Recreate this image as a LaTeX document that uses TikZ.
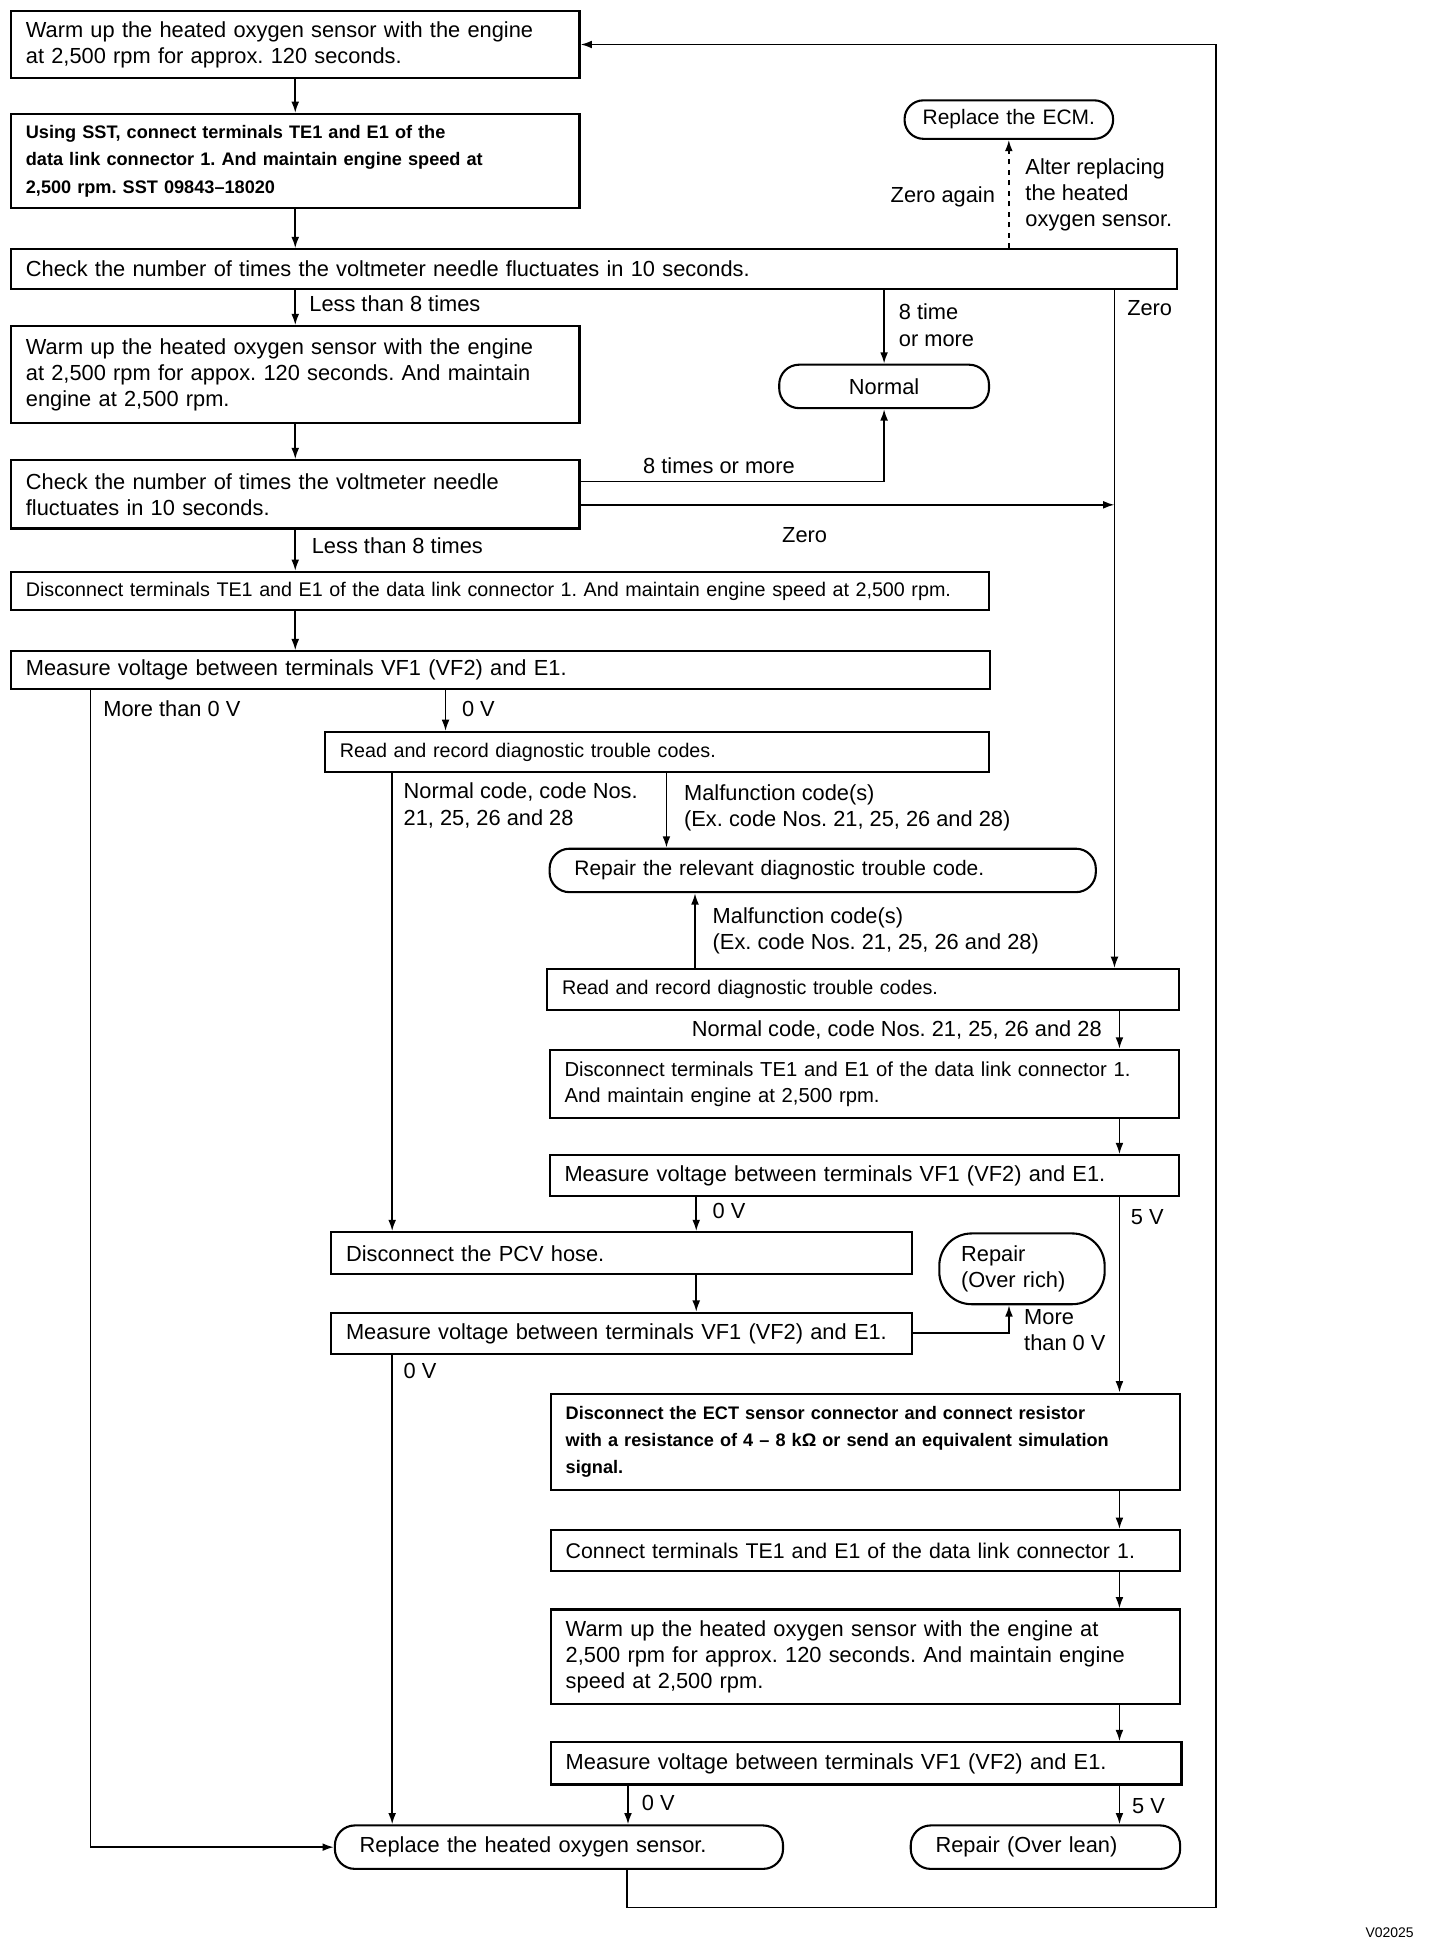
\documentclass[tikz,border=0pt]{standalone}
\usepackage{fontspec}
\setmainfont{Liberation Sans}
\usepackage{tikz}
\usetikzlibrary{shapes,arrows.meta,positioning}
\frenchspacing

\begin{document}
\begin{tikzpicture}
  [
    x=0.025cm, y=-0.025cm,
    StepBox/.style={rectangle, draw=black, line width=1.2pt, anchor=north west, inner xsep=0.3cm, inner ysep=0pt, align=left, font=\fontsize{12.5}{15}\selectfont},
    SmallBox/.style={StepBox, font=\fontsize{11.3}{14}\selectfont},
    BoldBox/.style={StepBox, font=\bfseries\fontsize{10.4}{15.6}\selectfont},
    EndBox/.style={StepBox, rounded corners=0.4cm, inner xsep=0.5cm},
    Arrow/.style={-{Latex[length=6.5pt,width=4.5pt]}, draw, line width=1pt},
    Label/.style={anchor=west, inner sep=0pt, align=left, font=\fontsize{12.5}{15}\selectfont}
  ]
  \useasboundingbox (0,0) rectangle (1160,1568);

  % Nodes
  \node[StepBox, text width=10.85cm, minimum height=1.35cm] (warmA) at (8,8)
    {Warm up the heated oxygen sensor with the engine\\at 2,500 rpm for approx. 120 seconds.};

  \node[BoldBox, text width=10.85cm, minimum height=1.9cm] (sstA) at (8,91)
    {Using SST, connect terminals TE1 and E1 of the\\data link connector 1. And maintain engine speed at\\2,500 rpm. SST 09843–18020};

  \node[StepBox, text width=22.875cm, minimum height=0.8cm] (checkA) at (8,200)
    {Check the number of times the voltmeter needle fluctuates in 10 seconds.};

  \node[EndBox, align=center, inner xsep=0.15cm, text width=3.9cm, minimum height=0.775cm, rounded corners=0.38cm, font=\fontsize{12}{15}\selectfont] (replECM) at (728,80)
    {Replace the ECM.};

  \node[StepBox, text width=10.85cm, minimum height=1.95cm] (warmB) at (8,262)
    {Warm up the heated oxygen sensor with the engine\\at 2,500 rpm for appox. 120 seconds. And maintain\\engine at 2,500 rpm.};

  \node[EndBox, align=center, text width=3.225cm, minimum height=0.875cm] (normal) at (627,293)
    {Normal};

  \node[StepBox, text width=10.85cm, minimum height=1.375cm] (checkB) at (8,370)
    {Check the number of times the voltmeter needle\\fluctuates in 10 seconds.};

  \node[SmallBox, text width=19.1cm, minimum height=0.775cm] (discA) at (8,460)
    {Disconnect terminals TE1 and E1 of the data link connector 1. And maintain engine speed at 2,500 rpm.};

  \node[StepBox, text width=19.125cm, minimum height=0.75cm] (measA) at (8,524)
    {Measure voltage between terminals VF1 (VF2) and E1.};

  \node[SmallBox, text width=12.775cm, minimum height=0.8cm] (readA) at (261,589)
    {Read and record diagnostic trouble codes.};

  \node[EndBox, text width=10cm, minimum height=0.875cm, font=\fontsize{12}{15}\selectfont] (repairDTC) at (442,683)
    {Repair the relevant diagnostic trouble code.};

  \node[SmallBox, text width=12.125cm, minimum height=0.825cm] (readB) at (440,780)
    {Read and record diagnostic trouble codes.};

  \node[StepBox, text width=12.075cm, minimum height=1.375cm, font=\fontsize{11.6}{15}\selectfont] (discB) at (442,845)
    {Disconnect terminals TE1 and E1 of the data link connector 1.\\And maintain engine at 2,500 rpm.};

  \node[StepBox, text width=12.075cm, minimum height=0.825cm] (measB) at (442,930)
    {Measure voltage between terminals VF1 (VF2) and E1.};

  \node[StepBox, text width=11.1cm, minimum height=0.85cm] (pcv) at (266,992)
    {Disconnect the PCV hose.};

  \node[EndBox, text width=2.45cm, inner xsep=0.44cm, minimum height=1.425cm, rounded corners=0.65cm] (richFix) at (756,993)
    {Repair\\(Over rich)};

  \node[StepBox, text width=11.1cm, minimum height=0.825cm] (measC) at (266,1057)
    {Measure voltage between terminals VF1 (VF2) and E1.};

  \node[BoldBox, text width=12.075cm, minimum height=1.95cm] (ectA) at (443,1122)
    {Disconnect the ECT sensor connector and connect resistor\\with a resistance of 4 – 8 k\symbol{"03A9} or send an equivalent simulation\\signal.};

  \node[StepBox, text width=12.075cm, minimum height=0.825cm, font=\fontsize{12.2}{15}\selectfont] (connA) at (443,1232)
    {Connect terminals TE1 and E1 of the data link connector 1.};

  \node[StepBox, text width=12.075cm, minimum height=1.9cm] (warmC) at (443,1296)
    {Warm up the heated oxygen sensor with the engine at\\2,500 rpm for approx. 120 seconds. And maintain engine\\speed at 2,500 rpm.};

  \node[StepBox, text width=12.1cm, minimum height=0.85cm] (measD) at (443,1403)
    {Measure voltage between terminals VF1 (VF2) and E1.};

  \node[EndBox, text width=8.025cm, minimum height=0.875cm] (replO2) at (269,1470)
    {Replace the heated oxygen sensor.};

  \node[EndBox, text width=4.425cm, minimum height=0.875cm] (leanFix) at (733,1470)
    {Repair (Over lean)};

  % Labels
  \node[Label, anchor=east] (lblAgain) at (802,159) {Zero again};
  \node[Label] (lblAfter) at (826,157) {Alter replacing\\the heated\\oxygen sensor.};
  \node[Label] (lblLessA) at (249,245) {Less than 8 times};
  \node[Label] (lblMoreA) at (724,262) {8 time\\or more};
  \node[Label] (lblZeroA) at (908,248) {Zero};
  \node[Label] (lblMoreB) at (518,375) {8 times or more};
  \node[Label] (lblZeroB) at (630,431) {Zero};
  \node[Label] (lblLessB) at (251,440) {Less than 8 times};
  \node[Label] (lblOverA) at (83,571) {More than 0 V};
  \node[Label] (lblOkA) at (372,571) {0 V};
  \node[Label] (lblCodeA) at (325,649) {Normal code, code Nos.\\21, 25, 26 and 28};
  \node[Label] (lblMalA) at (551,651) {Malfunction code(s)\\(Ex. code Nos. 21, 25, 26 and 28)};
  \node[Label] (lblMalB) at (574,750) {Malfunction code(s)\\(Ex. code Nos. 21, 25, 26 and 28)};
  \node[Label, anchor=east] (lblCodeB) at (888,830) {Normal code, code Nos. 21, 25, 26 and 28};
  \node[Label] (lblOkB) at (574,976) {0 V};
  \node[Label] (lblFiveA) at (911,981) {5 V};
  \node[Label] (lblOverB) at (825,1072) {More\\than 0 V};
  \node[Label] (lblOkC) at (325,1105) {0 V};
  \node[Label] (lblOkD) at (517,1453) {0 V};
  \node[Label] (lblFiveB) at (912,1455) {5 V};
  \node[Label, font=\fontsize{8}{9}\selectfont] (figId) at (1100,1557) {V02025};

  % Line positions
  \coordinate (zeroX) at (898,0);
  \coordinate (overX) at (73,0);
  \coordinate (okX) at (359,0);
  \coordinate (normX) at (316,0);
  \coordinate (malX) at (537,0);
  \coordinate (malY) at (560,0);
  \coordinate (rightX) at (902,0);
  \coordinate (pcvX) at (561,0);
  \coordinate (richX) at (813,0);
  \coordinate (lowX) at (506,0);
  \coordinate (backX) at (505,1537);
  \coordinate (backR) at (980,1537);
  \coordinate (moreIn) at ([yshift=0.26cm]checkB.east);
  \coordinate (zeroIn) at ([yshift=-0.21cm]checkB.east);

  % Lines
  \path [Arrow] (warmA.south) -- (sstA.north);
  \path [Arrow] (sstA.south) -- (sstA.south |- checkA.north);
  \path [Arrow] (warmB.north |- checkA.south) -- (warmB.north);
  \path [Arrow] (normal.north |- checkA.south) -- (normal.north);
  \path [Arrow] (zeroX |- checkA.south) -- (zeroX |- readB.north);
  \path [Arrow, dashed] (replECM.south |- checkA.north) -- (replECM.south);
  \path [Arrow] (warmB.south) -- (checkB.north);
  \path [Arrow] (moreIn) -| (normal.south);
  \path [Arrow] (zeroIn) -- (zeroIn -| zeroX);
  \path [Arrow] (checkB.south) -- (checkB.south |- discA.north);
  \path [Arrow] (checkB.south |- discA.south) -- (checkB.south |- measA.north);
  \path [Arrow] (overX |- measA.south) |- (replO2.west);
  \path [Arrow] (okX |- measA.south) -- (okX |- readA.north);
  \path [Arrow] (normX |- readA.south) -- (normX |- pcv.north);
  \path [Arrow] (malX |- readA.south) -- (malX |- repairDTC.north);
  \path [Arrow] (malY |- readB.north) -- (malY |- repairDTC.south);
  \path [Arrow] (rightX |- readB.south) -- (rightX |- discB.north);
  \path [Arrow] (rightX |- discB.south) -- (rightX |- measB.north);
  \path [Arrow] (pcvX |- measB.south) -- (pcvX |- pcv.north);
  \path [Arrow] (rightX |- measB.south) -- (rightX |- ectA.north);
  \path [Arrow] (pcvX |- pcv.south) -- (pcvX |- measC.north);
  \path [Arrow] (measC.east) -| (richX |- richFix.south);
  \path [Arrow] (normX |- measC.south) -- (normX |- replO2.north);
  \path [Arrow] (rightX |- ectA.south) -- (rightX |- connA.north);
  \path [Arrow] (rightX |- connA.south) -- (rightX |- warmC.north);
  \path [Arrow] (rightX |- warmC.south) -- (rightX |- measD.north);
  \path [Arrow] (lowX |- measD.south) -- (lowX |- replO2.north);
  \path [Arrow] (rightX |- measD.south) -- (rightX |- leanFix.north);
  \path [Arrow] (backX |- replO2.south) -- (backX) -- (backR) |- (warmA.east);

\end{tikzpicture}
\end{document}
